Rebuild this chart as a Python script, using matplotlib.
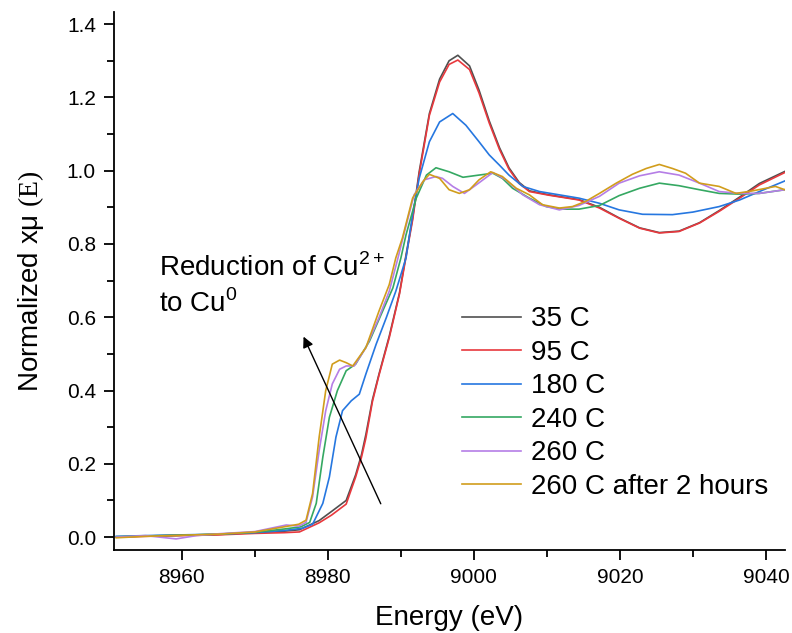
import matplotlib
matplotlib.use("Agg")
import matplotlib.pyplot as plt

# XANES spectra (Cu K-edge)
energy_hot = [8951, 8955, 8960, 8965, 8970, 8974, 8976.1, 8978.8, 8980.5, 8982.5,
              8983.8, 8984.6, 8985.2, 8986.1, 8987.0, 8988.4, 8989.8, 8990.7, 8991.6, 8992.5,
              8993.9, 8995.3, 8996.6, 8997.8, 8999.4, 9000.7, 9002.1, 9003.5, 9004.8,
              9006.2, 9007.6, 9010.3, 9014.4, 9017.2, 9019.9, 9022.7, 9025.4, 9028.1,
              9030.9, 9033.6, 9036.4, 9039.1, 9042.6]
mu_35 = [0.000, 0.003, 0.005, 0.007, 0.012, 0.016, 0.020, 0.045, 0.070, 0.100,
         0.170, 0.225, 0.280, 0.375, 0.445, 0.548, 0.666, 0.770, 0.870, 0.997,
         1.156, 1.250, 1.300, 1.315, 1.286, 1.220, 1.136, 1.063, 1.008,
         0.968, 0.945, 0.934, 0.921, 0.900, 0.871, 0.844, 0.831, 0.835,
         0.858, 0.891, 0.928, 0.965, 0.998]
mu_95 = [0.000, 0.002, 0.004, 0.006, 0.010, 0.012, 0.014, 0.039, 0.060, 0.090,
         0.164, 0.218, 0.270, 0.370, 0.442, 0.544, 0.663, 0.765, 0.865, 0.990,
         1.151, 1.242, 1.290, 1.302, 1.276, 1.212, 1.130, 1.058, 1.004,
         0.965, 0.943, 0.933, 0.920, 0.898, 0.870, 0.843, 0.830, 0.834,
         0.857, 0.889, 0.925, 0.961, 0.995]

energy_180 = [8951, 8955, 8960, 8965, 8970, 8974, 8976.5, 8977.9, 8979.3, 8980.2,
              8981.1, 8982.0, 8983.2, 8984.3, 8985.2, 8986.6, 8988.0, 8989.3, 8990.7,
              8991.6, 8992.5, 8993.9, 8995.3, 8997.1, 8998.9, 9000.7, 9002.1, 9003.5,
              9004.8, 9006.7, 9009.0, 9011.7, 9014.4, 9017.2, 9019.9, 9023.1, 9027.2,
              9030.0, 9033.6, 9036.4, 9039.1, 9042.6]
mu_180 = [0.002, 0.004, 0.006, 0.008, 0.012, 0.018, 0.024, 0.035, 0.092, 0.164,
          0.273, 0.345, 0.372, 0.390, 0.445, 0.526, 0.599, 0.671, 0.762,
          0.880, 0.979, 1.079, 1.133, 1.156, 1.124, 1.079, 1.043, 1.015,
          0.988, 0.957, 0.943, 0.934, 0.925, 0.911, 0.893, 0.881, 0.880,
          0.887, 0.902, 0.920, 0.943, 0.972]

energy_240 = [8951, 8955, 8960, 8965, 8970, 8974, 8976.3, 8977.5, 8978.4, 8979.3,
              8980.2, 8981.3, 8982.5, 8983.8, 8985.7, 8987.5, 8988.9, 8990.0, 8990.7,
              8992.1, 8993.5, 8994.8, 8996.6, 8998.5, 9000.7, 9002.6, 9003.9, 9005.3,
              9007.6, 9009.9, 9012.2, 9014.4, 9017.2, 9019.9, 9022.7, 9025.4, 9028.1,
              9030.9, 9033.6, 9036.4, 9039.1, 9042.6]
mu_240 = [0.001, 0.003, 0.005, 0.008, 0.013, 0.022, 0.028, 0.040, 0.092, 0.218,
          0.327, 0.400, 0.454, 0.472, 0.535, 0.617, 0.680, 0.762, 0.825,
          0.925, 0.988, 1.008, 0.997, 0.982, 0.988, 0.993, 0.979, 0.952,
          0.925, 0.902, 0.895, 0.895, 0.905, 0.932, 0.952, 0.966, 0.959,
          0.948, 0.938, 0.936, 0.938, 0.948]

energy_260 = [8951, 8955, 8959.2, 8962, 8965, 8970, 8974.3, 8976, 8977.0, 8977.9,
              8978.8, 8979.7, 8980.6, 8981.6, 8982.5, 8983.6, 8985.2, 8987.0, 8988.4,
              8989.6, 8990.5, 8991.8, 8993.2, 8994.8, 8995.7, 8997.1, 8998.7, 9000.3,
              9002.6, 9004.4, 9006.7, 9009.0, 9011.7, 9014.4, 9017.2, 9019.9, 9022.7,
              9025.4, 9028.1, 9030.9, 9033.6, 9036.4, 9039.1, 9042.6]
mu_260 = [0.000, 0.004, -0.005, 0.004, 0.009, 0.015, 0.033, 0.030, 0.040, 0.110,
          0.236, 0.345, 0.418, 0.458, 0.467, 0.467, 0.517, 0.599, 0.671,
          0.762, 0.834, 0.934, 0.975, 0.984, 0.979, 0.957, 0.938, 0.961,
          0.995, 0.975, 0.934, 0.907, 0.893, 0.905, 0.930, 0.966, 0.986,
          0.997, 0.988, 0.966, 0.943, 0.938, 0.938, 0.948]

energy_2h = [8951, 8955, 8960, 8965, 8970, 8974, 8976, 8977.0, 8977.9, 8978.8,
             8979.7, 8980.6, 8981.6, 8982.5, 8983.4, 8985.2, 8987.0, 8988.4, 8989.3,
             8990.2, 8991.6, 8993.0, 8993.9, 8995.3, 8996.6, 8998.0, 8999.4, 9000.7,
             9002.3, 9003.9, 9005.8, 9007.6, 9009.4, 9011.7, 9013.5, 9015.3, 9017.2,
             9019.5, 9021.7, 9023.6, 9025.4, 9027.2, 9029.0, 9030.9, 9033.6, 9035.9,
             9038.2, 9041.3, 9042.6]
mu_2h = [-0.002, 0.002, 0.005, 0.008, 0.014, 0.028, 0.035, 0.046, 0.119, 0.273,
         0.400, 0.472, 0.483, 0.476, 0.467, 0.517, 0.617, 0.689, 0.762,
         0.816, 0.925, 0.970, 0.990, 0.979, 0.948, 0.938, 0.948, 0.975,
         0.997, 0.984, 0.952, 0.934, 0.907, 0.898, 0.902, 0.916, 0.938,
         0.966, 0.990, 1.006, 1.017, 1.006, 0.993, 0.966, 0.957, 0.938,
         0.945, 0.957, 0.948]

labels = ['35 C', '95 C', '180 C', '240 C', '260 C', '260 C after 2 hours']
colors = ['#505050', '#e8383d', '#2677e0', '#35a862', '#b57ee6', '#d19d1c']

plt.rcParams['font.family'] = ['Liberation Sans', 'DejaVu Sans']
plt.rcParams['mathtext.fontset'] = 'custom'
plt.rcParams['mathtext.rm'] = 'Liberation Serif'
plt.rcParams['mathtext.sf'] = 'Liberation Sans'

fig = plt.figure(figsize=(7.92, 6.33), dpi=100)
ax = fig.add_axes([0.144, 0.131, 0.847, 0.850])

series = [(energy_hot, mu_35), (energy_hot, mu_95), (energy_180, mu_180),
          (energy_240, mu_240), (energy_260, mu_260), (energy_2h, mu_2h)]
for (e, mu), lab, c in zip(series, labels, colors):
    ax.plot(e, mu, color=c, lw=1.2, label=lab)

ax.set_xlim(8950.7, 9042.6)
ax.set_ylim(-0.0355, 1.433)
ax.set_xticks([8960, 8980, 9000, 9020, 9040])
ax.set_xticks(range(8960, 9041, 10), minor=True)
ax.set_yticks([0.0, 0.2, 0.4, 0.6, 0.8, 1.0, 1.2, 1.4])
ax.set_yticks([0.1, 0.3, 0.5, 0.7, 0.9, 1.1, 1.3], minor=True)
ax.yaxis.set_major_formatter(matplotlib.ticker.FormatStrFormatter('%.1f'))

for side in ['top', 'right']:
    ax.spines[side].set_visible(False)
for side in ['left', 'bottom']:
    ax.spines[side].set_linewidth(1.3)
ax.tick_params(which='major', direction='out', length=7.5, width=1.3, labelsize=15, pad=5.5)
ax.tick_params(which='minor', direction='out', length=5, width=1.3)

ax.set_xlabel('Energy (eV)', fontsize=20, labelpad=13)
ax.set_ylabel(r'Normalized xμ $\mathrm{(E)}$', fontsize=20, labelpad=15)

# arrow + annotation
ax.annotate('', xy=(8976.5, 0.554), xytext=(8987.4, 0.084),
            arrowprops=dict(arrowstyle='-|>', color='black', lw=1.0, mutation_scale=16))
ax.text(8956.9, 0.713, r'Reduction of Cu$^{\mathsf{2+}}$', fontsize=20, va='baseline')
ax.text(8956.9, 0.615, r'to Cu$^{\mathsf{0}}$', fontsize=20, va='baseline')

ax.legend(loc='upper left', bbox_to_anchor=(0.583, 0.516), bbox_transform=fig.transFigure,
          frameon=False, fontsize=20, handlelength=2.15, handletextpad=0.35,
          labelspacing=0.27, borderpad=0, borderaxespad=0)

plt.savefig('out.png', dpi=100)
